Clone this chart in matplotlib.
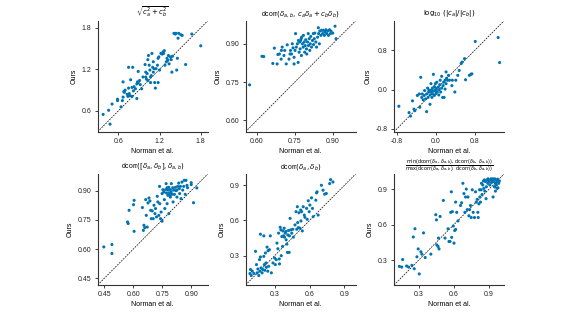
import matplotlib
matplotlib.use("Agg")
import matplotlib.pyplot as plt
import numpy as np

plt.rcParams['font.family'] = ['Liberation Sans', 'DejaVu Sans']
plt.rcParams['font.size'] = 5

# ---- data (Norman et al. x, Ours y) ----
p1_x = [0.38,0.46,0.48,0.51,0.59,0.59,0.64,0.66,0.67,0.68,0.69,0.70,0.67,0.73,0.74,0.75,0.76,0.77,0.78,0.80,
        0.80,0.75,0.81,0.82,0.83,0.85,0.87,0.87,0.88,0.89,0.89,0.91,0.92,0.94,0.96,0.99,1.00,1.00,1.01,1.02,
        1.03,1.03,1.05,1.04,1.06,1.07,1.07,1.08,1.09,1.10,1.11,1.11,1.12,1.13,1.14,1.15,1.17,1.18,1.19,1.20,
        1.22,1.24,1.25,1.26,1.27,1.28,1.30,1.31,1.32,1.33,1.34,1.36,1.37,1.38,1.39,1.41,1.43,1.44,1.45,1.46,
        1.47,1.48,1.51,1.53,1.58,1.67,1.80,1.18]
p1_y = [0.55,0.61,0.41,0.70,0.77,0.75,0.66,0.75,0.80,0.88,0.87,0.90,1.02,0.84,0.81,0.93,0.85,0.82,1.05,0.94,
        0.81,1.23,1.23,0.89,0.95,0.92,0.78,0.99,1.02,1.17,1.01,1.04,0.98,0.92,1.09,1.27,1.16,1.09,1.06,1.14,
        1.04,1.34,1.26,1.40,1.19,1.09,1.01,1.11,1.43,1.23,1.31,1.16,1.21,1.01,0.93,1.21,1.26,1.36,1.38,1.19,
        1.43,1.42,1.45,1.43,1.47,1.26,1.31,1.36,1.33,1.40,1.28,1.38,1.34,1.16,1.39,1.72,1.71,1.72,1.19,1.36,
        1.65,1.72,1.70,1.69,1.27,1.71,1.54,1.01]

p2_x = [0.571,0.620,0.627,0.663,0.669,0.680,0.683,0.689,0.697,0.700,0.696,0.707,0.716,0.720,0.727,0.731,0.733,
        0.740,0.743,0.747,0.747,0.751,0.753,0.756,0.760,0.763,0.767,0.769,0.771,0.773,0.776,0.777,0.780,0.783,
        0.784,0.787,0.789,0.791,0.793,0.796,0.797,0.800,0.803,0.804,0.807,0.809,0.811,0.813,0.816,0.820,0.823,
        0.824,0.827,0.829,0.833,0.836,0.840,0.843,0.844,0.847,0.849,0.853,0.856,0.860,0.863,0.867,0.869,0.873,
        0.876,0.880,0.883,0.887,0.891,0.893,0.900,0.909,0.913,0.737,0.710,0.764,0.775]
p2_y = [0.739,0.851,0.850,0.823,0.883,0.821,0.858,0.860,0.874,0.887,0.840,0.854,0.821,0.896,0.840,0.860,0.874,
        0.900,0.884,0.821,0.847,0.874,0.940,0.887,0.900,0.827,0.867,0.907,0.880,0.913,0.854,0.926,0.900,0.887,
        0.933,0.907,0.867,0.893,0.916,0.880,0.860,0.907,0.940,0.893,0.920,0.874,0.900,0.929,0.887,0.913,0.940,
        0.897,0.920,0.942,0.907,0.887,0.926,0.963,0.940,0.900,0.950,0.933,0.953,0.940,0.953,0.933,0.946,0.955,
        0.940,0.950,0.933,0.955,0.940,0.950,0.942,0.969,0.920,0.860,0.874,0.913,0.920]

p3_x = [-0.76,-0.52,-0.48,-0.45,-0.43,-0.38,-0.34,-0.33,-0.31,-0.29,-0.28,-0.26,-0.24,-0.23,-0.21,-0.19,-0.19,
        -0.17,-0.16,-0.15,-0.14,-0.12,-0.12,-0.10,-0.10,-0.09,-0.08,-0.07,-0.07,-0.06,-0.05,-0.03,-0.03,-0.02,
        -0.01,0.00,0.00,0.01,0.02,0.03,0.05,0.06,0.07,0.08,0.09,0.10,0.12,0.12,0.14,0.15,0.16,0.17,0.19,0.19,
        0.21,0.22,0.24,0.26,0.28,0.33,0.34,0.39,0.41,0.45,0.48,0.52,0.54,0.59,0.61,0.69,0.72,0.74,0.81,1.28,
        1.31,-0.55,0.21]
p3_y = [-0.34,-0.54,-0.23,-0.40,-0.43,-0.12,-0.09,-0.36,0.25,-0.16,-0.09,-0.21,-0.12,-0.02,-0.19,-0.45,-0.09,
        0.03,-0.16,-0.05,-0.01,-0.11,-0.30,0.12,-0.05,-0.01,-0.16,0.03,-0.09,-0.03,0.31,0.06,-0.12,-0.02,
        0.12,0.03,-0.08,-0.01,0.15,-0.05,0.05,-0.11,0.00,0.10,0.19,-0.05,0.27,0.03,-0.16,0.08,0.15,-0.16,0.01,0.19,
        0.12,0.23,0.19,0.29,0.19,0.08,0.19,-0.05,0.19,0.29,0.39,0.53,0.56,0.63,0.20,0.29,0.31,0.32,0.98,1.06,
        0.55,-0.47,0.36]

p4_x = [0.447,0.489,0.489,0.570,0.573,0.578,0.601,0.604,0.604,0.647,0.652,0.655,0.659,0.664,0.667,0.672,0.676,
        0.681,0.686,0.690,0.693,0.698,0.703,0.707,0.712,0.715,0.720,0.724,0.727,0.732,0.736,0.737,0.741,0.744,
        0.749,0.749,0.753,0.758,0.761,0.763,0.767,0.770,0.772,0.775,0.775,0.779,0.780,0.784,0.784,0.787,0.789,
        0.792,0.796,0.797,0.801,0.804,0.806,0.809,0.813,0.818,0.821,0.826,0.830,0.835,0.838,0.840,0.844,0.847,
        0.852,0.856,0.861,0.864,0.869,0.873,0.878,0.881,0.900,0.900,0.912,0.929,0.826,0.792]
p4_y = [0.611,0.623,0.577,0.739,0.731,0.799,0.828,0.850,0.691,0.813,0.696,0.722,0.710,0.854,0.773,0.713,0.837,
        0.862,0.847,0.799,0.756,0.796,0.756,0.825,0.782,0.808,0.765,0.871,0.842,0.773,0.922,0.833,0.756,0.790,
        0.743,0.885,0.905,0.893,0.854,0.808,0.905,0.936,0.888,0.915,0.833,0.876,0.903,0.917,0.782,0.888,0.876,
        0.905,0.893,0.936,0.881,0.915,0.842,0.903,0.881,0.917,0.900,0.867,0.922,0.939,0.910,0.885,0.922,0.859,
        0.944,0.903,0.922,0.953,0.881,0.953,0.927,0.915,0.941,0.931,0.838,0.914,0.903,0.867]

p5_x = [0.088,0.093,0.099,0.108,0.122,0.136,0.144,0.150,0.156,0.164,0.170,0.173,0.178,0.178,0.184,0.192,0.198,
        0.207,0.207,0.212,0.215,0.221,0.226,0.229,0.235,0.241,0.243,0.249,0.255,0.263,0.272,0.286,0.300,0.306,
        0.314,0.320,0.328,0.334,0.340,0.342,0.348,0.354,0.357,0.362,0.368,0.371,0.376,0.382,0.385,0.391,0.396,
        0.399,0.405,0.410,0.413,0.419,0.425,0.427,0.433,0.439,0.447,0.456,0.461,0.475,0.484,0.490,0.495,0.498,
        0.504,0.509,0.518,0.524,0.526,0.532,0.538,0.546,0.555,0.560,0.575,0.580,0.589,0.597,0.603,0.617,0.625,
        0.631,0.654,0.660,0.665,0.674,0.702,0.716,0.730,0.744,0.773,0.781,0.801]
p5_y = [0.148,0.182,0.131,0.168,0.148,0.337,0.224,0.154,0.187,0.131,0.266,0.168,0.483,0.289,0.196,0.154,0.182,
        0.469,0.294,0.224,0.176,0.323,0.238,0.201,0.373,0.168,0.342,0.210,0.351,0.469,0.154,0.238,0.280,0.224,
        0.266,0.407,0.359,0.492,0.272,0.230,0.542,0.520,0.300,0.463,0.379,0.511,0.469,0.534,0.458,0.492,0.506,
        0.435,0.399,0.328,0.477,0.514,0.328,0.469,0.618,0.520,0.492,0.525,0.458,0.562,0.675,0.525,0.717,0.582,
        0.539,0.666,0.534,0.689,0.596,0.675,0.511,0.717,0.646,0.627,0.703,0.610,0.768,0.675,0.731,0.793,0.703,
        0.632,0.773,0.835,0.844,0.646,0.900,0.858,0.824,0.830,0.914,0.948,0.928]

p6_x = [0.136,0.156,0.164,0.198,0.215,0.243,0.255,0.263,0.269,0.286,0.297,0.306,0.320,0.328,0.342,0.357,0.405,
        0.447,0.453,0.456,0.467,0.470,0.475,0.484,0.512,0.526,0.552,0.560,0.569,0.575,0.580,0.583,0.589,0.597,
        0.603,0.609,0.617,0.617,0.626,0.637,0.659,0.668,0.679,0.688,0.696,0.702,0.708,0.716,0.722,0.730,0.736,
        0.744,0.750,0.759,0.767,0.778,0.787,0.793,0.801,0.807,0.810,0.815,0.821,0.824,0.829,0.835,0.838,0.843,
        0.849,0.855,0.858,0.863,0.866,0.872,0.877,0.880,0.886,0.892,0.894,0.900,0.909,0.914,0.920,0.923,0.928,
        0.934,0.937,0.943,0.948,0.951,0.957,0.957,0.962,0.965,0.971,0.976,0.979,0.985,0.991,0.951,0.971]
p6_y = [0.248,0.242,0.306,0.251,0.242,0.257,0.497,0.228,0.567,0.329,0.396,0.184,0.372,0.352,0.532,0.323,0.352,
        0.686,0.642,0.430,0.416,0.488,0.396,0.671,0.807,0.488,0.567,0.459,0.459,0.706,0.880,0.494,0.712,0.590,
        0.445,0.552,0.561,0.793,0.706,0.633,0.764,0.787,0.952,0.865,0.706,0.836,0.903,0.729,0.836,0.677,0.729,
        0.764,0.662,0.897,0.706,0.662,0.880,0.793,0.816,0.706,0.662,0.778,0.897,0.836,0.793,0.897,0.952,0.857,
        0.938,0.972,0.909,0.981,0.886,0.967,0.822,0.923,0.981,0.952,0.990,0.967,0.938,0.981,0.990,0.958,0.975,
        0.990,0.836,0.967,0.923,0.990,0.952,0.886,0.981,0.938,0.967,0.987,0.914,0.952,0.972,0.923,0.909]

titles = [
    r'$\sqrt{c_a^2 + c_b^2}$',
    r'dcorr$(\delta_{a,b},\, c_a\delta_a + c_b\delta_b)$',
    r'$\log_{10}\,(|c_a|/|c_b|)$',
    r'dcorr$([\delta_a, \delta_b], \delta_{a,b})$',
    r'dcorr$(\delta_a, \delta_b)$',
    r'$\frac{\min(\mathrm{dcorr}(\delta_a,\,\delta_{a,b}),\,\mathrm{dcorr}(\delta_b,\,\delta_{a,b}))}{\max(\mathrm{dcorr}(\delta_a,\,\delta_{a,b}),\,\mathrm{dcorr}(\delta_b,\,\delta_{a,b}))}$',
]
ticks = [[0.6, 1.2, 1.8], [0.60, 0.75, 0.90], [-0.8, 0.0, 0.8],
         [0.45, 0.60, 0.75, 0.90], [0.3, 0.6, 0.9], [0.3, 0.6, 0.9]]
tick_fmt = ['{:.1f}', '{:.2f}', '{:.1f}', '{:.2f}', '{:.1f}', '{:.1f}']
limits = [(0.30, 1.90), (0.555, 0.99), (-0.86, 1.40), (0.415, 0.985), (0.05, 0.995), (0.09, 1.03)]

xs = [p1_x, p2_x, p3_x, p4_x, p5_x, p6_x]
ys = [p1_y, p2_y, p3_y, p4_y, p5_y, p6_y]

fig = plt.figure(figsize=(5.71, 3.16), dpi=100)
lefts = [0.171, 0.430, 0.690]
bottoms = [0.583, 0.098]
w, h = 0.1926, 0.351

for i in range(6):
    r, c = divmod(i, 3)
    ax = fig.add_axes([lefts[c], bottoms[r], w, h])
    lo, hi = limits[i]
    ax.plot([lo, hi], [lo, hi], ls=(0, (2.5, 1.5)), color='black', lw=0.5, zorder=1)
    ax.scatter(xs[i], ys[i], s=5, color='#0173b2', edgecolors='none', zorder=2)
    ax.set_xlim(lo, hi)
    ax.set_ylim(lo, hi)
    ax.set_xticks(ticks[i])
    ax.set_yticks(ticks[i])
    ax.set_xticklabels([tick_fmt[i].format(t) for t in ticks[i]])
    ax.set_yticklabels([tick_fmt[i].format(t) for t in ticks[i]])
    for s in ['top', 'right']:
        ax.spines[s].set_visible(False)
    for s in ['left', 'bottom']:
        ax.spines[s].set_linewidth(0.8)
        ax.spines[s].set_color('#333333')
    ax.tick_params(length=2.5, width=0.6, pad=2, labelsize=5, colors='#222222')
    ax.set_xlabel('Norman et al.', fontsize=5, labelpad=2)
    ax.set_ylabel('Ours', fontsize=5, labelpad=3)
    ax.set_title(titles[i], fontsize=5, pad=4)

fig.savefig('out.png', dpi=100)
